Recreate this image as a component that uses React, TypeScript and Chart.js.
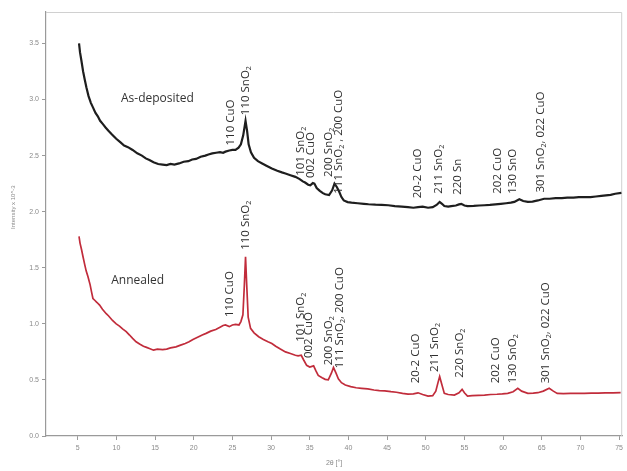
import React, { useEffect, useRef } from 'react';
import { Chart, registerables } from 'chart.js';

Chart.register(...registerables);

// ---- data ----
const xTickValues = [5, 10, 15, 20, 25, 30, 35, 40, 45, 50, 55, 60, 65, 70, 75];
const yTickValues = [0, 0.5, 1.0, 1.5, 2.0, 2.5, 3.0, 3.5];

const asDepTheta = [
  5.17, 5.3, 5.47, 5.7, 5.9, 6.12, 6.4, 6.7, 6.97, 7.3, 7.6, 7.9, 8.26, 8.6, 9.0, 9.4, 9.98, 10.5, 11.0, 11.5,
  12.1, 12.7, 13.3, 13.8, 14.27, 14.8, 15.4, 15.98, 16.5, 17.0, 17.5, 18.1, 18.7, 19.3, 19.8, 20.3, 20.9, 21.5,
  21.9, 22.4, 22.9, 23.4, 23.8, 24.1, 24.6, 25.0, 25.4, 25.8, 26.1, 26.4, 26.7, 26.9, 27.1, 27.4, 27.8, 28.3,
  28.85, 29.4, 30.1, 30.8, 31.4, 31.86, 32.5, 33.14, 33.7, 34.1, 34.4, 34.8, 35.07, 35.4, 35.6, 35.9, 36.3,
  36.7, 37.0, 37.5, 37.9, 38.2, 38.5, 38.8, 39.1, 39.4, 39.9, 40.4, 41.2, 42.0, 42.6, 43.5, 44.3, 45.15, 46.0,
  46.9, 47.7, 48.4, 49.0, 49.6, 50.3, 50.9, 51.4, 51.8, 52.1, 52.4, 52.9, 53.3, 53.9, 54.3, 54.6, 55.0, 55.4,
  56.2, 56.9, 57.6, 58.3, 59.0, 59.7, 60.4, 61.0, 61.45, 61.8, 62.1, 62.6, 63.2, 63.8, 64.5, 65.3, 66.0, 66.8,
  67.6, 68.3, 69.1, 69.8, 70.6, 71.3, 72.0, 72.7, 73.3, 73.9, 74.5, 75.3,
];
const asDepIntensity = [
  3.5, 3.42, 3.35, 3.25, 3.18, 3.11, 3.03, 2.97, 2.93, 2.88, 2.85, 2.81, 2.78, 2.75, 2.72, 2.69, 2.65, 2.62, 2.59, 2.575,
  2.55, 2.52, 2.5, 2.475, 2.46, 2.44, 2.425, 2.42, 2.415, 2.425, 2.42, 2.43, 2.445, 2.45, 2.465, 2.47, 2.49, 2.5,
  2.51, 2.52, 2.525, 2.53, 2.525, 2.535, 2.545, 2.55, 2.55, 2.57, 2.6, 2.68, 2.81, 2.72, 2.6, 2.53, 2.48, 2.45,
  2.43, 2.41, 2.385, 2.365, 2.35, 2.34, 2.325, 2.31, 2.29, 2.27, 2.26, 2.24, 2.235, 2.255, 2.25, 2.21, 2.185,
  2.165, 2.155, 2.148, 2.19, 2.25, 2.22, 2.18, 2.13, 2.1, 2.085, 2.08, 2.075, 2.07, 2.066, 2.062, 2.06, 2.057, 2.05,
  2.045, 2.04, 2.035, 2.04, 2.045, 2.035, 2.04, 2.06, 2.087, 2.07, 2.05, 2.045, 2.05, 2.055, 2.065, 2.07, 2.055, 2.05,
  2.052, 2.055, 2.057, 2.06, 2.065, 2.07, 2.075, 2.08, 2.087, 2.1, 2.11, 2.095, 2.087, 2.09, 2.1, 2.115, 2.115, 2.12,
  2.12, 2.125, 2.125, 2.13, 2.13, 2.13, 2.135, 2.14, 2.145, 2.15, 2.16, 2.167,
];

const annealTheta = [
  5.17, 5.3, 5.5, 5.68, 5.9, 6.1, 6.33, 6.6, 6.8, 6.97, 7.2, 7.5, 7.83, 8.2, 8.69, 9.0, 9.5, 9.98, 10.4, 10.8,
  11.27, 11.7, 12.1, 12.55, 13.0, 13.5, 13.9, 14.27, 14.8, 15.3, 15.98, 16.5, 17.0, 17.7, 18.3, 18.9, 19.4, 19.9,
  20.5, 21.1, 21.6, 22.2, 22.85, 23.4, 23.8, 24.1, 24.6, 25.0, 25.4, 25.85, 26.1, 26.36, 26.55, 26.7, 26.85,
  27.04, 27.35, 27.8, 28.4, 29.0, 29.6, 30.1, 30.6, 31.2, 31.86, 32.5, 33.14, 33.5, 33.9, 34.2, 34.6, 35.0, 35.5,
  35.8, 36.1, 36.6, 37.0, 37.4, 37.8, 38.07, 38.4, 38.7, 39.1, 39.6, 40.3, 41.0, 41.7, 42.5, 43.3, 44.0, 44.7,
  45.5, 46.2, 47.0, 47.7, 48.4, 49.0, 49.6, 50.3, 50.9, 51.3, 51.6, 51.8, 52.0, 52.4, 52.9, 53.7, 54.3, 54.7,
  55.0, 55.4, 56.0, 56.8, 57.6, 58.4, 59.2, 59.9, 60.6, 61.3, 61.9, 62.4, 63.2, 63.9, 64.5, 65.2, 65.96, 66.5,
  67.0, 67.8, 68.7, 69.6, 70.5, 71.4, 72.3, 73.2, 74.2, 75.2,
];
const annealIntensity = [
  1.78, 1.72, 1.66, 1.6, 1.53, 1.47, 1.42, 1.35, 1.28, 1.226, 1.21, 1.19, 1.167, 1.13, 1.09, 1.07, 1.03, 1.0, 0.98, 0.955,
  0.93, 0.9, 0.87, 0.84, 0.82, 0.8, 0.79, 0.78, 0.765, 0.775, 0.77, 0.775, 0.785, 0.795, 0.81, 0.825, 0.84, 0.86,
  0.88, 0.9, 0.915, 0.935, 0.95, 0.97, 0.985, 0.99, 0.975, 0.99, 0.995, 0.99, 1.02, 1.08, 1.35, 1.597, 1.35,
  1.06, 0.96, 0.92, 0.885, 0.86, 0.84, 0.825, 0.8, 0.775, 0.75, 0.735, 0.72, 0.715, 0.72, 0.68, 0.63, 0.615, 0.625,
  0.58, 0.54, 0.52, 0.505, 0.5, 0.56, 0.61, 0.56, 0.51, 0.475, 0.454, 0.44, 0.43, 0.425, 0.42, 0.41, 0.405, 0.403,
  0.395, 0.39, 0.38, 0.374, 0.376, 0.385, 0.37, 0.355, 0.36, 0.4, 0.48, 0.53, 0.48, 0.38, 0.37, 0.365, 0.385, 0.416,
  0.385, 0.356, 0.36, 0.362, 0.365, 0.37, 0.372, 0.375, 0.38, 0.395, 0.425, 0.4, 0.38, 0.382, 0.386, 0.4, 0.425, 0.4,
  0.38, 0.378, 0.38, 0.38, 0.38, 0.382, 0.383, 0.384, 0.385, 0.386,
];

// peak labels ("_2" = subscript 2); anchored at (2θ, intensity) of the label's lower end
const asDepLabelText = ['110 CuO', '110 SnO_2', '101 SnO_2', '002 CuO', '200 SnO_2', '111 SnO_2 , 200 CuO', '20-2 CuO', '211 SnO_2', '220 Sn', '202 CuO', '130 SnO', '301 SnO_2, 022 CuO'];
const asDepLabelTheta = [24.78, 26.71, 33.79, 35.07, 37.43, 38.71, 49.0, 51.67, 54.16, 59.3, 61.23, 64.88];
const asDepLabelY = [2.59, 2.86, 2.32, 2.3, 2.31, 2.16, 2.12, 2.16, 2.15, 2.16, 2.16, 2.17];

const annealLabelText = ['110 CuO', '110 SnO_2', '101 SnO_2', '002 CuO', '200 SnO_2', '111 SnO_2, 200 CuO', '20-2 CuO', '211 SnO_2', '220 SnO_2', '202 CuO', '130 SnO_2', '301 SnO_2, 022 CuO'];
const annealLabelTheta = [24.69, 26.71, 33.79, 34.86, 37.43, 38.93, 48.75, 51.16, 54.38, 59.09, 61.23, 65.52];
const annealLabelY = [1.06, 1.66, 0.84, 0.695, 0.63, 0.605, 0.47, 0.57, 0.52, 0.47, 0.47, 0.47];

const seriesNames = ['As-deposited', 'Annealed'];
const seriesNameTheta = [10.6, 9.34];
const seriesNameY = [3.007, 1.383];

const yAxisTitle = 'Intensity x 10^-3';
const xAxisTitle = '2θ [°]';

const LABEL_FONT = '"Open Sans", "DejaVu Sans", sans-serif';
const TICK_FAMILY = '"Liberation Sans", Arial, sans-serif';

function drawRich(ctx: CanvasRenderingContext2D, text: string, x: number, y: number, size: number) {
  const parts = text.split(/(_\d)/).filter((p) => p.length > 0);
  let cx = x;
  for (const p of parts) {
    if (p.startsWith('_')) {
      const s = p.slice(1);
      ctx.font = `${size * 0.62}px ${LABEL_FONT}`;
      ctx.fillText(s, cx, y + size * 0.28);
      cx += ctx.measureText(s).width;
    } else {
      ctx.font = `${size}px ${LABEL_FONT}`;
      ctx.fillText(p, cx, y);
      cx += ctx.measureText(p).width;
    }
  }
}

const labelsPlugin = {
  id: 'peakLabels',
  beforeDatasetsDraw(chart: any) {
    const { ctx, chartArea } = chart;
    ctx.save();
    ctx.strokeStyle = '#d0d0d0';
    ctx.lineWidth = 1;
    ctx.beginPath();
    ctx.moveTo(chartArea.left, chartArea.top + 0.5);
    ctx.lineTo(chartArea.right - 0.5, chartArea.top + 0.5);
    ctx.lineTo(chartArea.right - 0.5, chartArea.bottom);
    ctx.stroke();
    // y-axis title
    ctx.fillStyle = '#8a8a8a';
    ctx.font = `6px ${TICK_FAMILY}`;
    ctx.textAlign = 'center';
    ctx.textBaseline = 'middle';
    ctx.translate(13, chart.scales.y.getPixelForValue(2.04));
    ctx.rotate(-Math.PI / 2);
    ctx.fillText(yAxisTitle, 0, 0);
    ctx.restore();
  },
  afterDatasetsDraw(chart: any) {
    const { ctx } = chart;
    const xs = chart.scales.x;
    const ys = chart.scales.y;
    ctx.save();
    ctx.fillStyle = '#2e2e2e';
    ctx.textBaseline = 'middle';
    ctx.textAlign = 'left';
    const drawSet = (texts: string[], th: number[], iv: number[]) => {
      texts.forEach((t, i) => {
        const px = xs.getPixelForValue(th[i]);
        const py = ys.getPixelForValue(iv[i]);
        ctx.save();
        ctx.translate(px, py);
        ctx.rotate(-Math.PI / 2);
        drawRich(ctx, t, 0, 0, 11.5);
        ctx.restore();
      });
    };
    drawSet(asDepLabelText, asDepLabelTheta, asDepLabelY);
    drawSet(annealLabelText, annealLabelTheta, annealLabelY);
    ctx.fillStyle = '#333';
    seriesNames.forEach((n, i) => {
      ctx.font = `12px ${LABEL_FONT}`;
      ctx.fillText(n, xs.getPixelForValue(seriesNameTheta[i]), ys.getPixelForValue(seriesNameY[i]));
    });
    ctx.restore();
  },
};

export default function App() {
  const canvasRef = useRef<HTMLCanvasElement | null>(null);

  useEffect(() => {
    if (!canvasRef.current) return;
    const toPts = (xs: number[], ys: number[]) => xs.map((x, i) => ({ x, y: ys[i] }));
    const tickFont = { family: TICK_FAMILY, size: 7 };
    const chart = new Chart(canvasRef.current, {
      type: 'line',
      data: {
        datasets: [
          {
            label: seriesNames[0],
            data: toPts(asDepTheta, asDepIntensity),
            borderColor: '#1e1e1e',
            borderWidth: 2.2,
            pointRadius: 0,
            tension: 0,
            fill: false,
          },
          {
            label: seriesNames[1],
            data: toPts(annealTheta, annealIntensity),
            borderColor: '#c12c3b',
            borderWidth: 1.7,
            pointRadius: 0,
            tension: 0,
            fill: false,
          },
        ],
      },
      options: {
        animation: false,
        responsive: true,
        maintainAspectRatio: false,
        layout: { padding: { left: 0, top: 12, right: 2, bottom: 0 } },
        plugins: { legend: { display: false }, tooltip: { enabled: false } },
        scales: {
          x: {
            type: 'linear',
            min: 0.9,
            max: 75.4,
            afterBuildTicks: (s: any) => {
              s.ticks = xTickValues.map((v) => ({ value: v }));
            },
            afterFit: (s: any) => {
              s.height = 35;
            },
            ticks: { color: '#8a8a8a', font: tickFont, padding: 4, maxRotation: 0, autoSkip: false, callback: (v: any) => String(v) },
            grid: { display: true, drawOnChartArea: false, drawTicks: true, tickLength: 4, color: '#9a9a9a' },
            border: { display: true, color: '#9a9a9a', width: 1.2 },
            title: { display: true, text: xAxisTitle, color: '#8a8a8a', font: tickFont, padding: { top: 0, bottom: 4 } },
          },
          y: {
            type: 'linear',
            min: 0,
            max: 3.78,
            afterBuildTicks: (s: any) => {
              s.ticks = yTickValues.map((v) => ({ value: v }));
            },
            afterFit: (s: any) => {
              s.width = 46;
            },
            ticks: { color: '#8a8a8a', font: tickFont, padding: 3, callback: (v: any) => Number(v).toFixed(1) },
            grid: { display: true, drawOnChartArea: false, drawTicks: true, tickLength: 4, color: '#9a9a9a' },
            border: { display: true, color: '#9a9a9a', width: 1.2 },
            title: { display: false, text: yAxisTitle },
          },
        },
      },
      plugins: [labelsPlugin],
    });
    return () => chart.destroy();
  }, []);

  return (
    <div style={{ position: 'fixed', left: 0, top: 0, width: 627, height: 471, background: '#fff' }}>
      <canvas ref={canvasRef} />
    </div>
  );
}
